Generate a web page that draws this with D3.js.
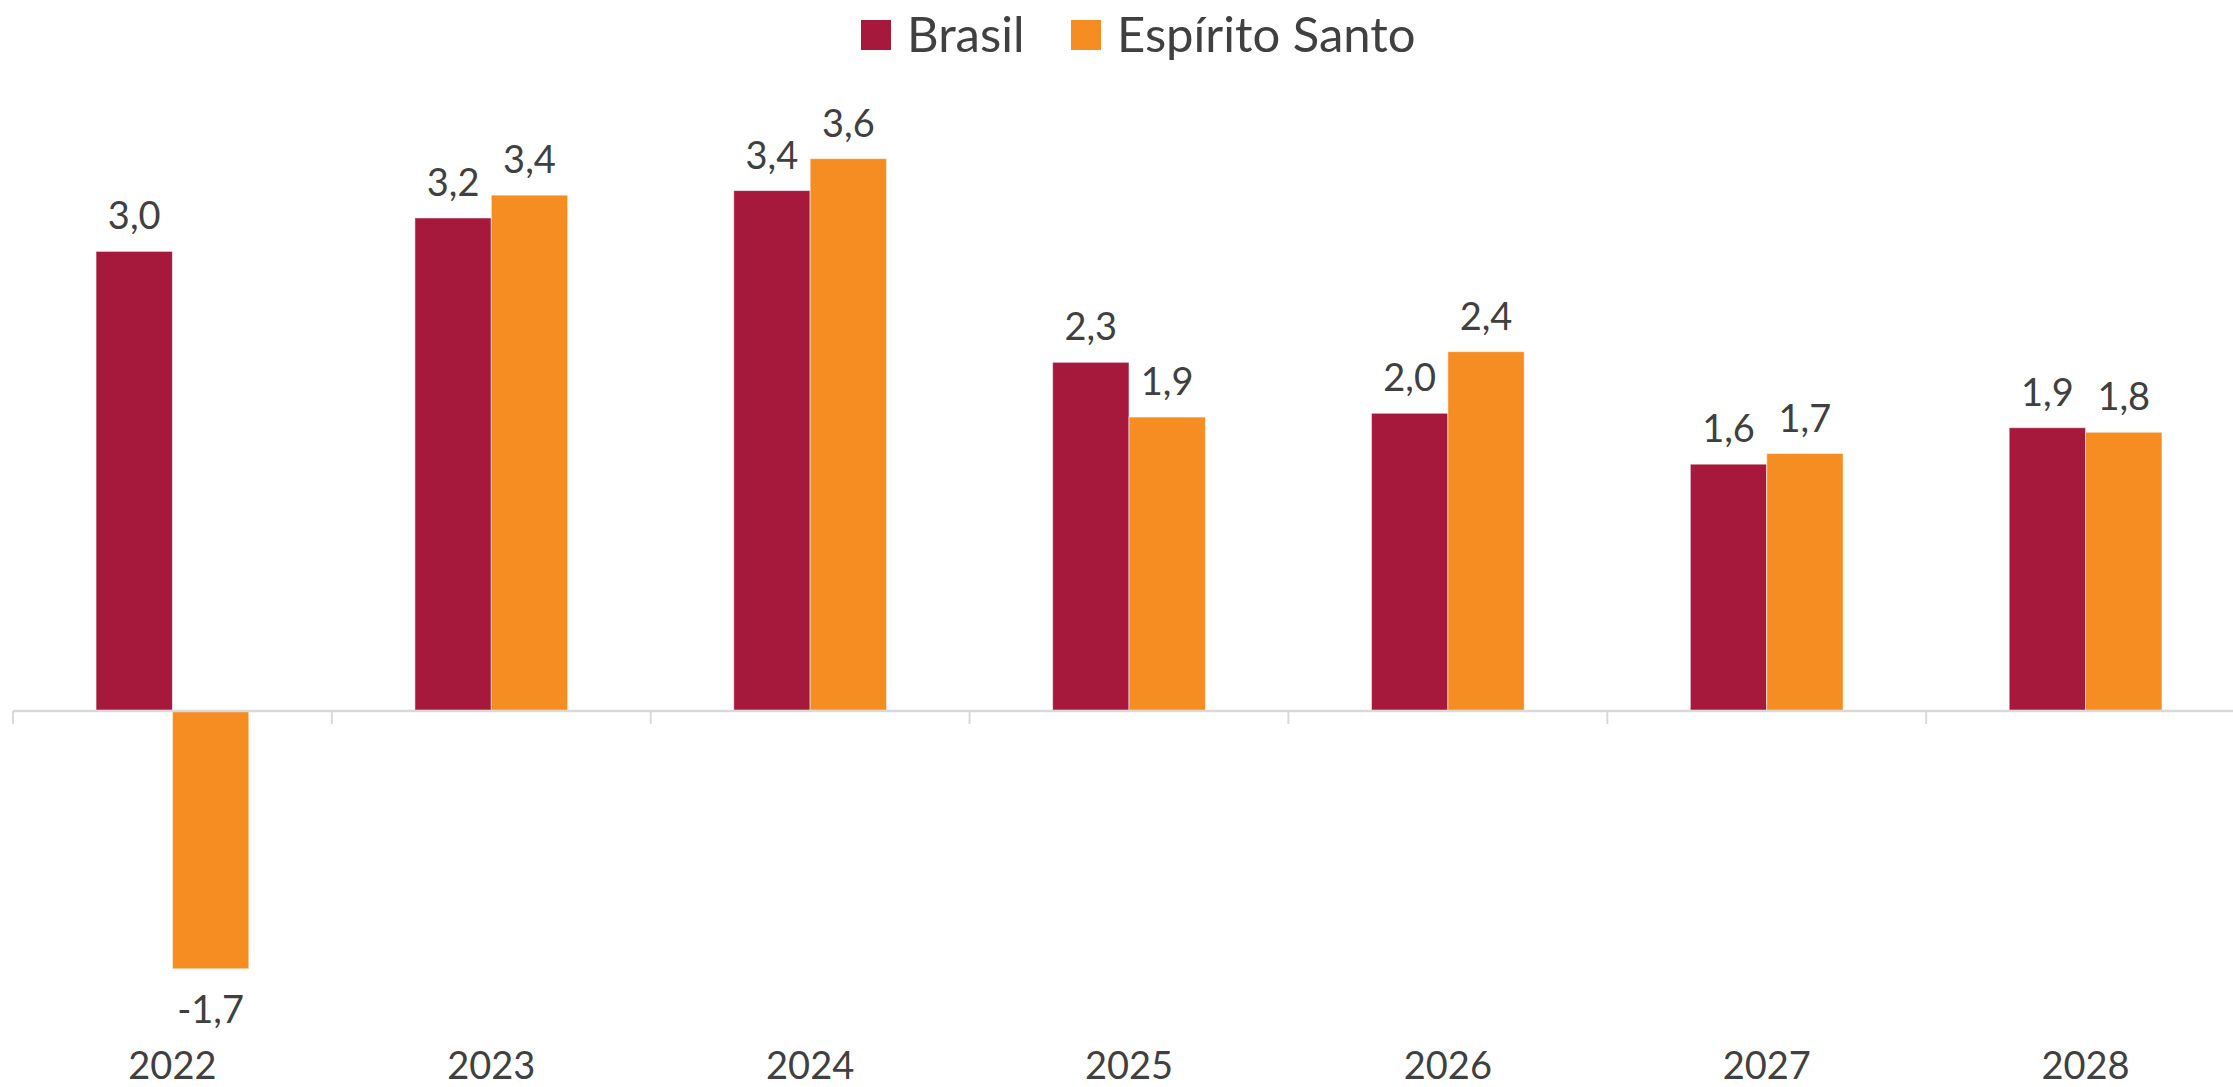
<!DOCTYPE html>
<html>
<head>
<meta charset="utf-8">
<script src="https://cdn.jsdelivr.net/npm/d3@7"></script>
<style>
  html, body { margin: 0; padding: 0; background: #fff; }
  svg { display: block; }
  text { font-family: Lato, "Open Sans", sans-serif; fill: #404040; }
</style>
</head>
<body>
<svg id="chart" width="2233" height="1087"></svg>
<script>
// ---- data ----
const years = ["2022", "2023", "2024", "2025", "2026", "2027", "2028"];
const seriesNames = ["Brasil", "Espírito Santo"];
const brasil = [3.02, 3.24, 3.42, 2.29, 1.955, 1.62, 1.86];
const espiritoSanto = [-1.70, 3.39, 3.63, 1.93, 2.36, 1.69, 1.83];
const seriesColors = ["#A6193C", "#F68D22"];

const seriesValues = [brasil, espiritoSanto];
const rows = [];
years.forEach((yr, i) => {
  seriesNames.forEach((s, j) => rows.push({ year: yr, series: s, value: seriesValues[j][i], idx: j }));
});

const svg = d3.select("#chart");

const x0 = d3.scaleBand().domain(years).range([13, 2245]).paddingInner(0).paddingOuter(0);
const x1 = d3.scaleBand().domain(seriesNames).range([0, x0.bandwidth()]).paddingInner(0).paddingOuter(1.087);
const y = d3.scaleLinear().domain([-2, 4]).range([1014.4, 102.4]);

const fmt = v => (Math.round(v * 10) / 10).toFixed(1).replace(".", ",");

// bars
svg.append("g").selectAll("rect").data(rows).join("rect")
  .attr("x", d => x0(d.year) + x1(d.series))
  .attr("width", x1.bandwidth())
  .attr("y", d => Math.min(y(d.value), y(0)))
  .attr("height", d => Math.abs(y(d.value) - y(0)))
  .attr("fill", d => seriesColors[d.idx])
  .attr("stroke", "#ffffff")
  .attr("stroke-opacity", 0.55)
  .attr("stroke-width", 1);

// axis line + boundary ticks
const axisY = y(0) + 0.6;
const ax = svg.append("g");
ax.append("line")
  .attr("x1", x0.range()[0]).attr("x2", x0.range()[1])
  .attr("y1", axisY).attr("y2", axisY)
  .attr("stroke", "#d9d9d9").attr("stroke-width", 2.5);
const bounds = years.map(yr => x0(yr)).concat([x0.range()[1]]);
ax.selectAll("line.tick").data(bounds).join("line")
  .attr("class", "tick")
  .attr("x1", d => d).attr("x2", d => d)
  .attr("y1", axisY).attr("y2", axisY + 13)
  .attr("stroke", "#d9d9d9").attr("stroke-width", 2);

// category labels
svg.append("g").selectAll("text").data(years).join("text")
  .attr("x", d => x0(d) + x0.bandwidth() / 2)
  .attr("y", 1079)
  .attr("text-anchor", "middle")
  .attr("font-size", 38)
  .text(d => d);

// data labels
svg.append("g").selectAll("text").data(rows).join("text")
  .attr("x", d => x0(d.year) + x1(d.series) + x1.bandwidth() / 2)
  .attr("y", d => d.value >= 0 ? y(d.value) - 22 : y(d.value) + 54)
  .attr("text-anchor", "middle")
  .attr("font-size", 38)
  .text(d => fmt(d.value));

// legend
const legendX = [861, 1071];
const lg = svg.append("g").selectAll("g").data(seriesNames).join("g")
  .attr("transform", (d, i) => `translate(${legendX[i]},0)`);
lg.append("rect").attr("x", 0).attr("y", 20).attr("width", 30).attr("height", 30)
  .attr("fill", (d, i) => seriesColors[i]);
lg.append("text").attr("x", 46).attr("y", 52).attr("font-size", 49).text(d => d);
</script>
</body>
</html>
